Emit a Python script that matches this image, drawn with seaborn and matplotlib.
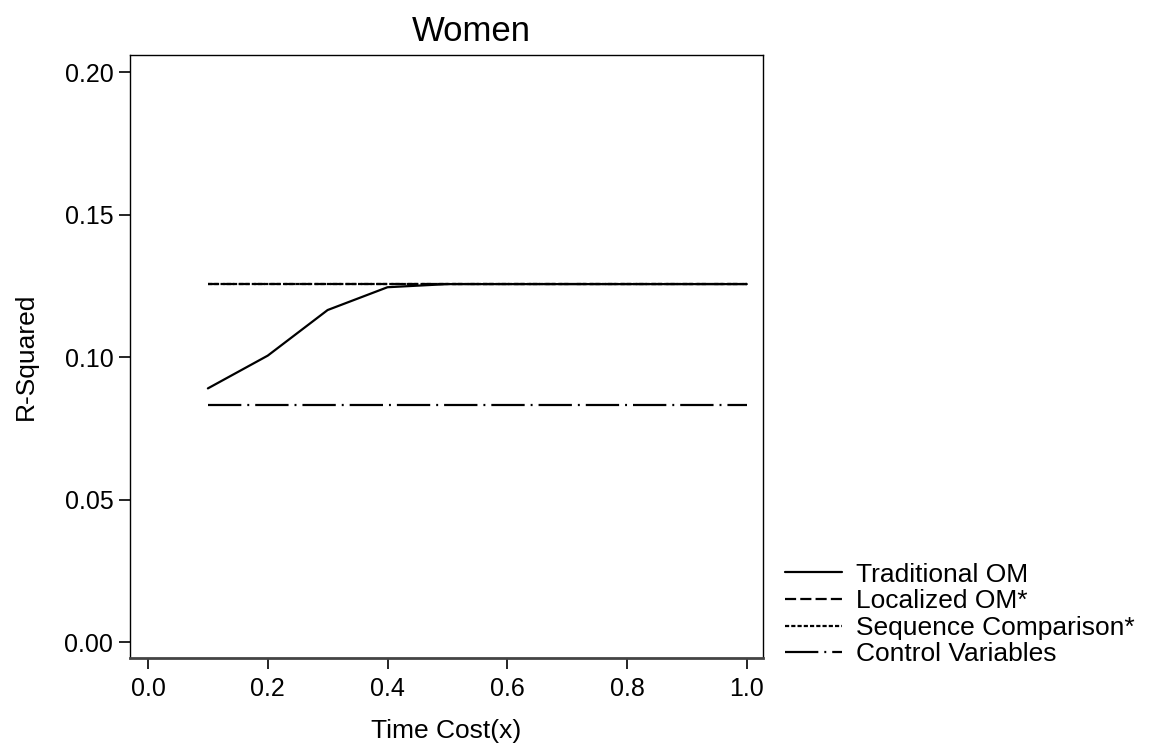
import numpy as np
import pandas as pd
import matplotlib
matplotlib.use('Agg')
import matplotlib.pyplot as plt
import seaborn as sns

# ── data ────────────────────────────────────────────────
time_cost = [0.1, 0.2, 0.3, 0.4, 0.5, 0.6, 0.7, 0.8, 0.9, 1.0]
traditional_om = [0.0890, 0.1005, 0.1165, 0.1245, 0.1256, 0.1256, 0.1256, 0.1256, 0.1256, 0.1256]
localized_om = [0.1256] * 10
sequence_comp = [0.1256] * 10
control_vars = [0.0832] * 10

series_names = ['Traditional OM', 'Localized OM*', 'Sequence Comparison*', 'Control Variables']
series_vals = [traditional_om, localized_om, sequence_comp, control_vars]
y_ticks = [0.00, 0.05, 0.10, 0.15, 0.20]
x_ticks = [0.0, 0.2, 0.4, 0.6, 0.8, 1.0]

sns.set_style('white')
plt.rcParams['font.family'] = ['Liberation Sans', 'DejaVu Sans']
plt.rcParams.update({
    'lines.scale_dashes': False,
    'text.color': 'black', 'axes.labelcolor': 'black',
    'xtick.color': 'black', 'ytick.color': 'black',
})

dash_styles = [
    '-',
    (0, (8, 3)),
    (0, (3, 1.5)),
    (0, (24, 4.3, 1.4, 4.3)),
]

fig = plt.figure(figsize=(11.59, 7.5), dpi=100)
ax = fig.add_axes([0.1122, 0.1227, 0.5461, 0.8040])

for name, vals, ls in zip(series_names, series_vals, dash_styles):
    df = pd.DataFrame({'x': time_cost, 'y': vals})
    sns.lineplot(data=df, x='x', y='y', ax=ax, color='black', linewidth=1.6,
                 linestyle=ls, label=name, legend=False)

ax.set_xlim(-0.03, 1.027)
ax.set_ylim(-0.0056, 0.206)
ax.set_xticks(x_ticks)
ax.set_xticklabels([f'{v:.1f}' for v in x_ticks])
ax.set_yticks(y_ticks)
ax.set_yticklabels([f'{v:.2f}' for v in y_ticks])
ax.tick_params(axis='both', direction='out', length=8, width=1.2,
               labelsize=18, pad=4, left=True, bottom=True)
ax.tick_params(axis='x', pad=6)
for side in ['top', 'right', 'left']:
    ax.spines[side].set_color('black')
    ax.spines[side].set_linewidth(1.0)
ax.spines['bottom'].set_color('#444444')
ax.spines['bottom'].set_linewidth(2.0)

ax.set_xlabel('Time Cost(x)', fontsize=19, labelpad=13)
ax.set_ylabel('R-Squared', fontsize=19, labelpad=19)
ax.set_title('Women', fontsize=25, pad=10, x=0.54)

handles, labels = ax.get_legend_handles_labels()
fig.legend(handles, labels, loc='center left', bbox_to_anchor=(0.657, 0.1807),
           frameon=False, fontsize=19, handlelength=2.16, handletextpad=0.53,
           labelspacing=0.1)

plt.savefig('out.png', dpi=100, facecolor='white')
plt.close()
